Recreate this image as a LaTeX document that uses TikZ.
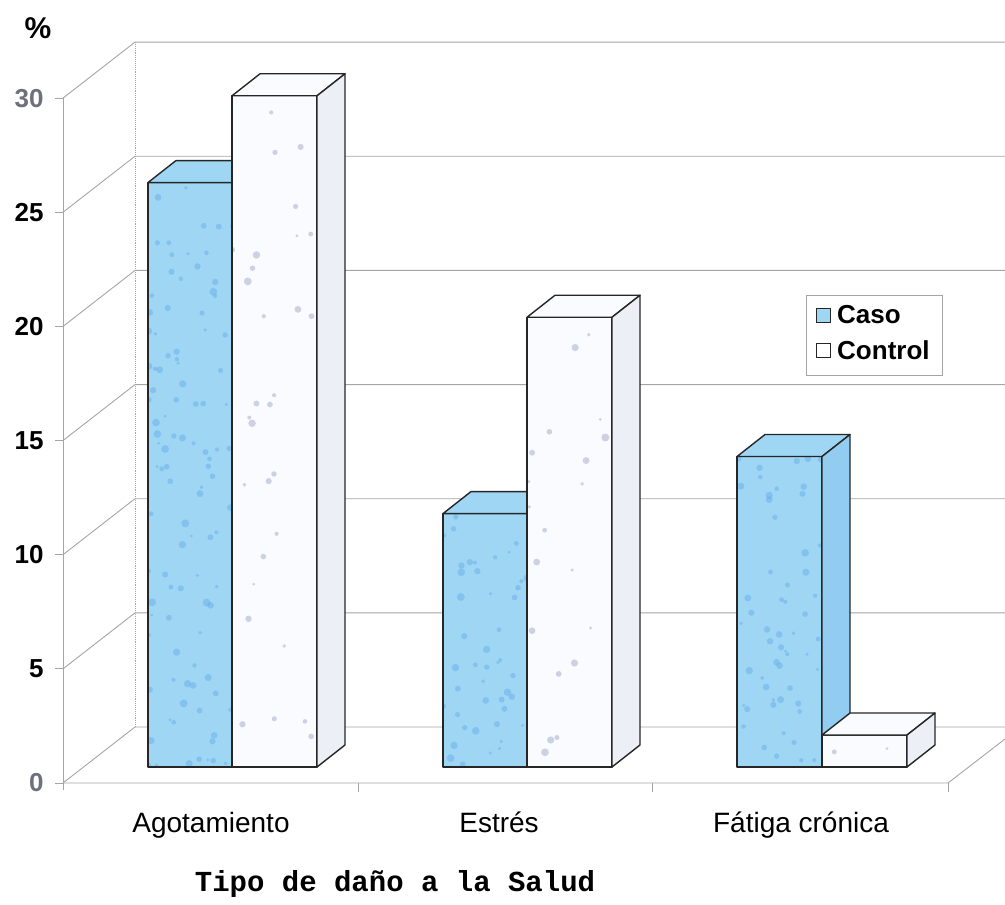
\documentclass[tikz,border=0pt]{standalone}
\usepackage{fontspec}
\setmainfont{Liberation Sans}
\newfontfamily\titlefont{Liberation Mono}
\definecolor{casoblue}{RGB}{158,214,244}
\definecolor{casoside}{RGB}{146,204,240}
\definecolor{casospot}{RGB}{100,168,232}
\definecolor{controlface}{RGB}{250,251,254}
\definecolor{controlside}{RGB}{236,239,246}
\definecolor{controlspot}{RGB}{150,158,195}
\definecolor{gridgray}{RGB}{165,165,165}
\definecolor{labelgray}{RGB}{110,112,125}

% x, value, front fill, side fill, spot colour, spots per unit
\newcommand{\barbox}[6]{%
  \pgfmathsetmacro{\yt}{767-22.83*#2}
  \pgfmathsetmacro{\hb}{767-\yt}
  \pgfmathtruncatemacro{\nsp}{1+#2*#6}
  \fill[#3](#1,767)rectangle(#1+85,\yt);
  \begin{scope}
    \clip(#1,767)rectangle(#1+85,\yt);
    \foreach \i in {1,...,\nsp}
      \fill[#5,opacity=0.45]({#1+85*rnd},{767-\hb*rnd})circle[radius={1.5+2.5*rnd}];
  \end{scope}
  \draw[barline](#1,767)rectangle(#1+85,\yt);
  \draw[barline,fill=#3](#1,\yt)--++(28,-22)--++(85,0)--++(-28,22)--cycle;
  \draw[barline,fill=#4](#1+85,767)--(#1+85,\yt)--++(28,-22)--(#1+113,745)--cycle;
}

\tikzset{
  gridline/.style={draw=gridgray, line width=0.9pt},
  barline/.style={draw=black!85, line width=1.4pt, line join=round},
  ticklabel/.style={anchor=east, font=\bfseries\fontsize{26}{30}\selectfont},
  catlabel/.style={anchor=base, font=\fontsize{28}{32}\selectfont},
  legtext/.style={anchor=west, font=\bfseries\fontsize{26}{30}\selectfont, inner sep=0pt},
  legmark/.style={draw=black!85, line width=1pt, minimum size=14pt, inner sep=0pt}
}

\begin{document}
\begin{tikzpicture}[x=1pt,y=-1pt]
    \useasboundingbox(0,0)rectangle(1005,905);
    \pgfmathsetseed{11}

    \foreach \v/\c in {0/labelgray,5/black,10/black,15/black,20/black,25/black,30/labelgray}{
        \draw[gridline](63,783-22.83*\v)--(135,727-22.83*\v)--(1005,727-22.83*\v);
        \draw[gridline](55,783-22.83*\v)--(63,783-22.83*\v);
        \node[ticklabel,text=\c](tick\v)at(47,783-22.83*\v){\v};
    }
    \draw[gridline](63,97)--(63,790);
    \draw[gridline,densely dotted](135,42)--(135,727);
    \draw[gridline](63,783)--(948,783)--(1005,739);
    \foreach \x in {358,652,948}
        \draw[gridline](\x,783)--(\x,792);

    \barbox{148}{25.6}{casoblue}{casoside}{casospot}{4}
    \barbox{232}{29.4}{controlface}{controlside}{controlspot}{1}
    \barbox{443}{11.1}{casoblue}{casoside}{casospot}{4}
    \barbox{527}{19.7}{controlface}{controlside}{controlspot}{1}
    \barbox{737}{13.6}{casoblue}{casoside}{casospot}{4}
    \barbox{822}{1.4}{controlface}{controlside}{controlspot}{1}

    \node[font=\bfseries\fontsize{30}{34}\selectfont](pct)at(38,28){\%};
    \node[catlabel](agot)at(211,832){Agotamiento};
    \node[catlabel](estres)at(499,832){Estrés};
    \node[catlabel](fatiga)at(801,832){Fátiga crónica};
    \node[anchor=base,font=\titlefont\bfseries\fontsize{29}{33}\selectfont](titulo)at(395,891){Tipo de daño a la Salud};

    \node[draw=gridgray, line width=0.9pt, minimum width=136pt, minimum height=80pt](leyenda)at(874,335){};
    \node[legmark,fill=casoblue](mcaso)at(823,315){};
    \node[legtext](tcaso)at(837,315){Caso};
    \node[legmark,fill=white](mcontrol)at(823,350){};
    \node[legtext](tcontrol)at(837,350){Control};
\end{tikzpicture}
\end{document}
